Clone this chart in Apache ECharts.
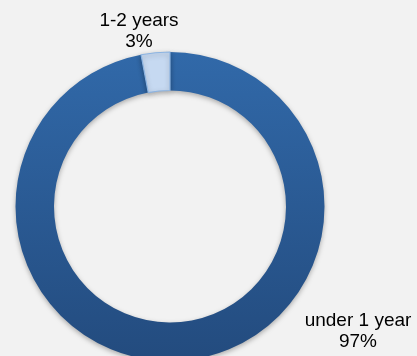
<!DOCTYPE html>
<html><head><meta charset="utf-8">
<script src="https://cdn.jsdelivr.net/npm/echarts@6/dist/echarts.min.js"></script>
<style>html,body{margin:0;padding:0;background:#f2f2f2}#c{width:417px;height:356px}</style>
</head><body><div id="c"></div>
<script>
const categories = ['under 1 year', '1-2 years'];
const values = [97, 3];
const chart = echarts.init(document.getElementById('c'));
const labelPos = {'under 1 year': [358, 331], '1-2 years': [139, 31]};
chart.setOption({
  backgroundColor: '#f2f2f2',
  animation: false,
  series: [{
    type: 'pie',
    center: [170, 206.5],
    radius: [116, 154.5],
    startAngle: 90,
    clockwise: true,
    label: {
      show: true,
      position: 'outside',
      formatter: p => p.name + '\n' + p.value + '%',
      fontFamily: 'Liberation Sans, Arial, sans-serif',
      fontSize: 19,
      lineHeight: 21,
      color: '#000',
      align: 'center'
    },
    labelLine: {show: false},
    labelLayout: p => {
      const n = categories[p.dataIndex];
      return {x: labelPos[n][0], y: labelPos[n][1], align: 'center', verticalAlign: 'middle'};
    },
    itemStyle: {
      shadowBlur: 5, shadowColor: 'rgba(0,0,0,0.3)', shadowOffsetY: 2
    },
    emphasis: {disabled: true},
    data: categories.map((c, i) => ({
      name: c, value: values[i],
      itemStyle: i === 0 ? {
        color: new echarts.graphic.LinearGradient(0, 0, 0, 1, [
          {offset: 0, color: '#3169a9'}, {offset: 1, color: '#234b7e'}
        ])
      } : {color: '#c6d9f1', borderColor: '#8cb4e2', borderWidth: 1.2}
    }))
  }]
});
</script></body></html>
